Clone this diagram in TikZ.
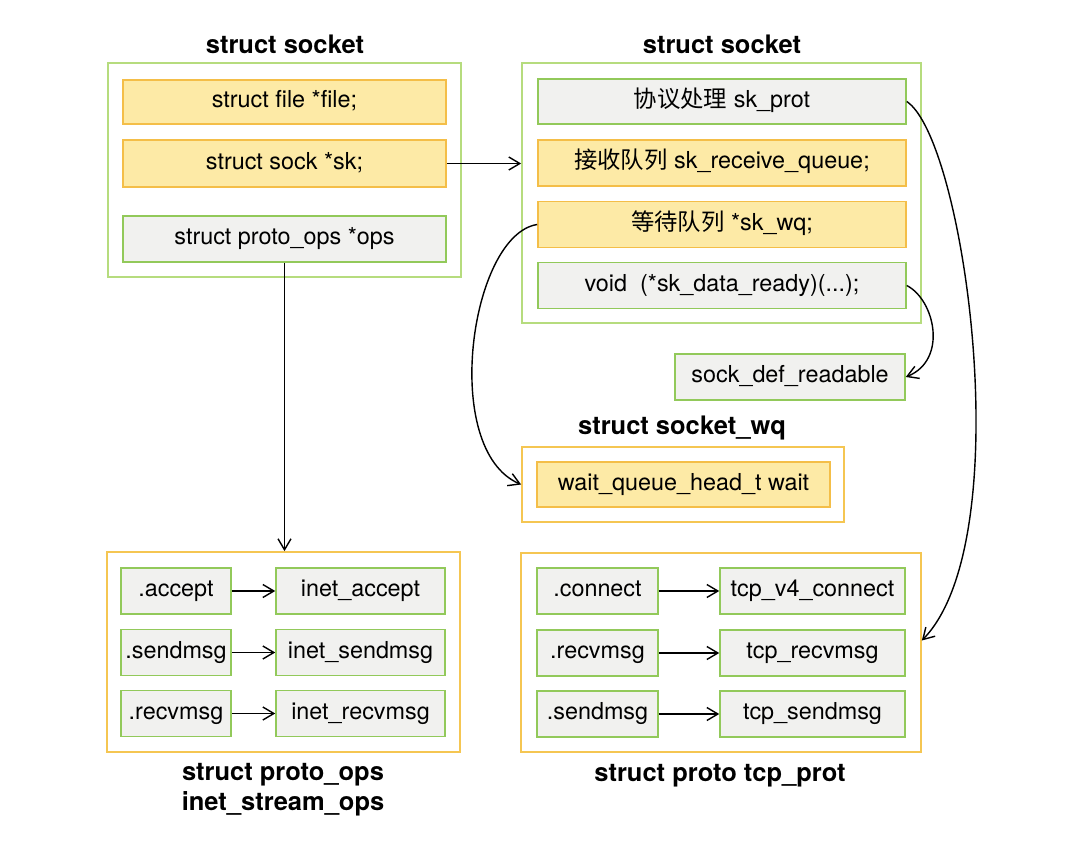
\documentclass[tikz,border=0pt]{standalone}
\usepackage{fontspec}
\setmainfont{TeX Gyre Heros}
\newfontfamily\cjk{Noto Sans CJK SC}
\usetikzlibrary{arrows.meta}
\definecolor{outergreen}{HTML}{B6DC7E}
\definecolor{fieldgreen}{HTML}{92C95A}
\definecolor{fieldgray}{HTML}{F1F1EF}
\definecolor{memfill}{HTML}{FDEAA6}
\definecolor{memline}{HTML}{F4BE48}
\definecolor{outerorange}{HTML}{F5C652}
\tikzstyle{title} = [font=\fontsize{14.5}{17}\selectfont\bfseries, align=center]
\tikzstyle{outer} = [rectangle, draw=outergreen, line width=1pt, fill=white, inner sep=0pt]
\tikzstyle{table} = [rectangle, draw=outerorange, line width=1pt, fill=white, inner sep=0pt]
\tikzstyle{member} = [rectangle, draw=memline, line width=1pt, fill=memfill, inner sep=0pt, minimum height=0.92cm, text height=1.9ex, text depth=0.6ex]
\tikzstyle{field} = [rectangle, draw=fieldgreen, line width=0.9pt, fill=fieldgray, inner sep=0pt, minimum height=0.92cm, text height=1.9ex, text depth=0.6ex]
\tikzstyle{arrow} = [line width=0.8pt, ->, >={Straight Barb[length=2.2mm,width=2.6mm]}]

\begin{document}
\begin{tikzpicture}[x=0.02cm, y=-0.02cm, font=\fontsize{13.3}{16}\selectfont]
	\useasboundingbox (0,0) rectangle (1075,848);

	\node[title] (tA) at (285,44) {struct socket};
	\node[outer, minimum width=7.06cm, minimum height=4.28cm] (sockA) at (284.5,170) {};
	\node[member, minimum width=6.46cm, minimum height=0.88cm] (file) at (284.5,102) {struct file *file;};
	\node[member, minimum width=6.46cm, minimum height=0.94cm] (sk) at (284.5,163.5) {struct sock *sk;};
	\node[field, minimum width=6.46cm] (ops) at (284.5,239) {struct proto\_ops *ops};

	\node[title] (tB) at (722,44) {struct socket};
	\node[outer, minimum width=7.98cm, minimum height=5.2cm] (sockB) at (721.5,193) {};
	\node[field, minimum width=7.36cm, minimum height=0.9cm] (prot) at (722,101.5) {{\cjk 协议处理} sk\_prot};
	\node[member, minimum width=7.36cm] (rq) at (722,163) {{\cjk 接收队列} sk\_receive\_queue;};
	\node[member, minimum width=7.36cm] (wq) at (722,224.5) {{\cjk 等待队列} *sk\_wq;};
	\node[field, minimum width=7.36cm] (ready) at (722,285.5) {void\ \ (*sk\_data\_ready)(...);};
	\node[field, minimum width=4.6cm] (readable) at (790,377) {sock\_def\_readable};

	\node[title] (tC) at (682,428) {struct socket\_wq};
	\node[table, minimum width=6.44cm, minimum height=1.5cm] (wqbox) at (683,484.5) {};
	\node[member, minimum width=5.86cm, minimum height=0.9cm] (wait) at (683.5,484.5) {wait\_queue\_head\_t wait};

	\node[table, minimum width=7.06cm, minimum height=4cm] (opsbox) at (283.5,652) {};
	\node[field, minimum width=2.2cm] (accept) at (176,591) {.accept};
	\node[field, minimum width=2.2cm] (sendA) at (176,652.5) {.sendmsg};
	\node[field, minimum width=2.2cm] (recvA) at (176,713.5) {.recvmsg};
	\node[field, minimum width=3.38cm] (iaccept) at (360.5,591) {inet\_accept};
	\node[field, minimum width=3.38cm] (isend) at (360.5,652.5) {inet\_sendmsg};
	\node[field, minimum width=3.38cm] (irecv) at (360.5,713.5) {inet\_recvmsg};
	\node[title] (tD) at (283,790) {struct proto\_ops\\inet\_stream\_ops};

	\node[table, minimum width=8cm, minimum height=3.98cm] (protbox) at (721,652.5) {};
	\node[field, minimum width=2.42cm] (connect) at (597.5,591) {.connect};
	\node[field, minimum width=2.42cm] (recvB) at (597.5,653) {.recvmsg};
	\node[field, minimum width=2.42cm] (sendB) at (597.5,714) {.sendmsg};
	\node[field, minimum width=3.7cm] (tconnect) at (812.5,591) {tcp\_v4\_connect};
	\node[field, minimum width=3.7cm] (trecv) at (812.5,653) {tcp\_recvmsg};
	\node[field, minimum width=3.7cm] (tsend) at (812.5,714) {tcp\_sendmsg};
	\node[title] (tE) at (720,776) {struct proto tcp\_prot};

	\draw[arrow] (sk.east) -- (sk.east -| sockB.west);
	\draw[arrow] (ops.south) -- (ops.south |- opsbox.north);
	\draw[arrow] (prot.east) .. controls (965,140) and (1020,540) .. ([yshift=0.24cm]protbox.east);
	\draw[arrow] (ready.east) .. controls (935,300) and (948,360) .. (readable.east);
	\draw[arrow] (wq.west) .. controls (470,235) and (440,450) .. (wqbox.west);
	\draw[arrow] (accept) -- (iaccept);
	\draw[arrow] (sendA) -- (isend);
	\draw[arrow] (recvA) -- (irecv);
	\draw[arrow] (connect) -- (tconnect);
	\draw[arrow] (recvB) -- (trecv);
	\draw[arrow] (sendB) -- (tsend);
\end{tikzpicture}
\end{document}
